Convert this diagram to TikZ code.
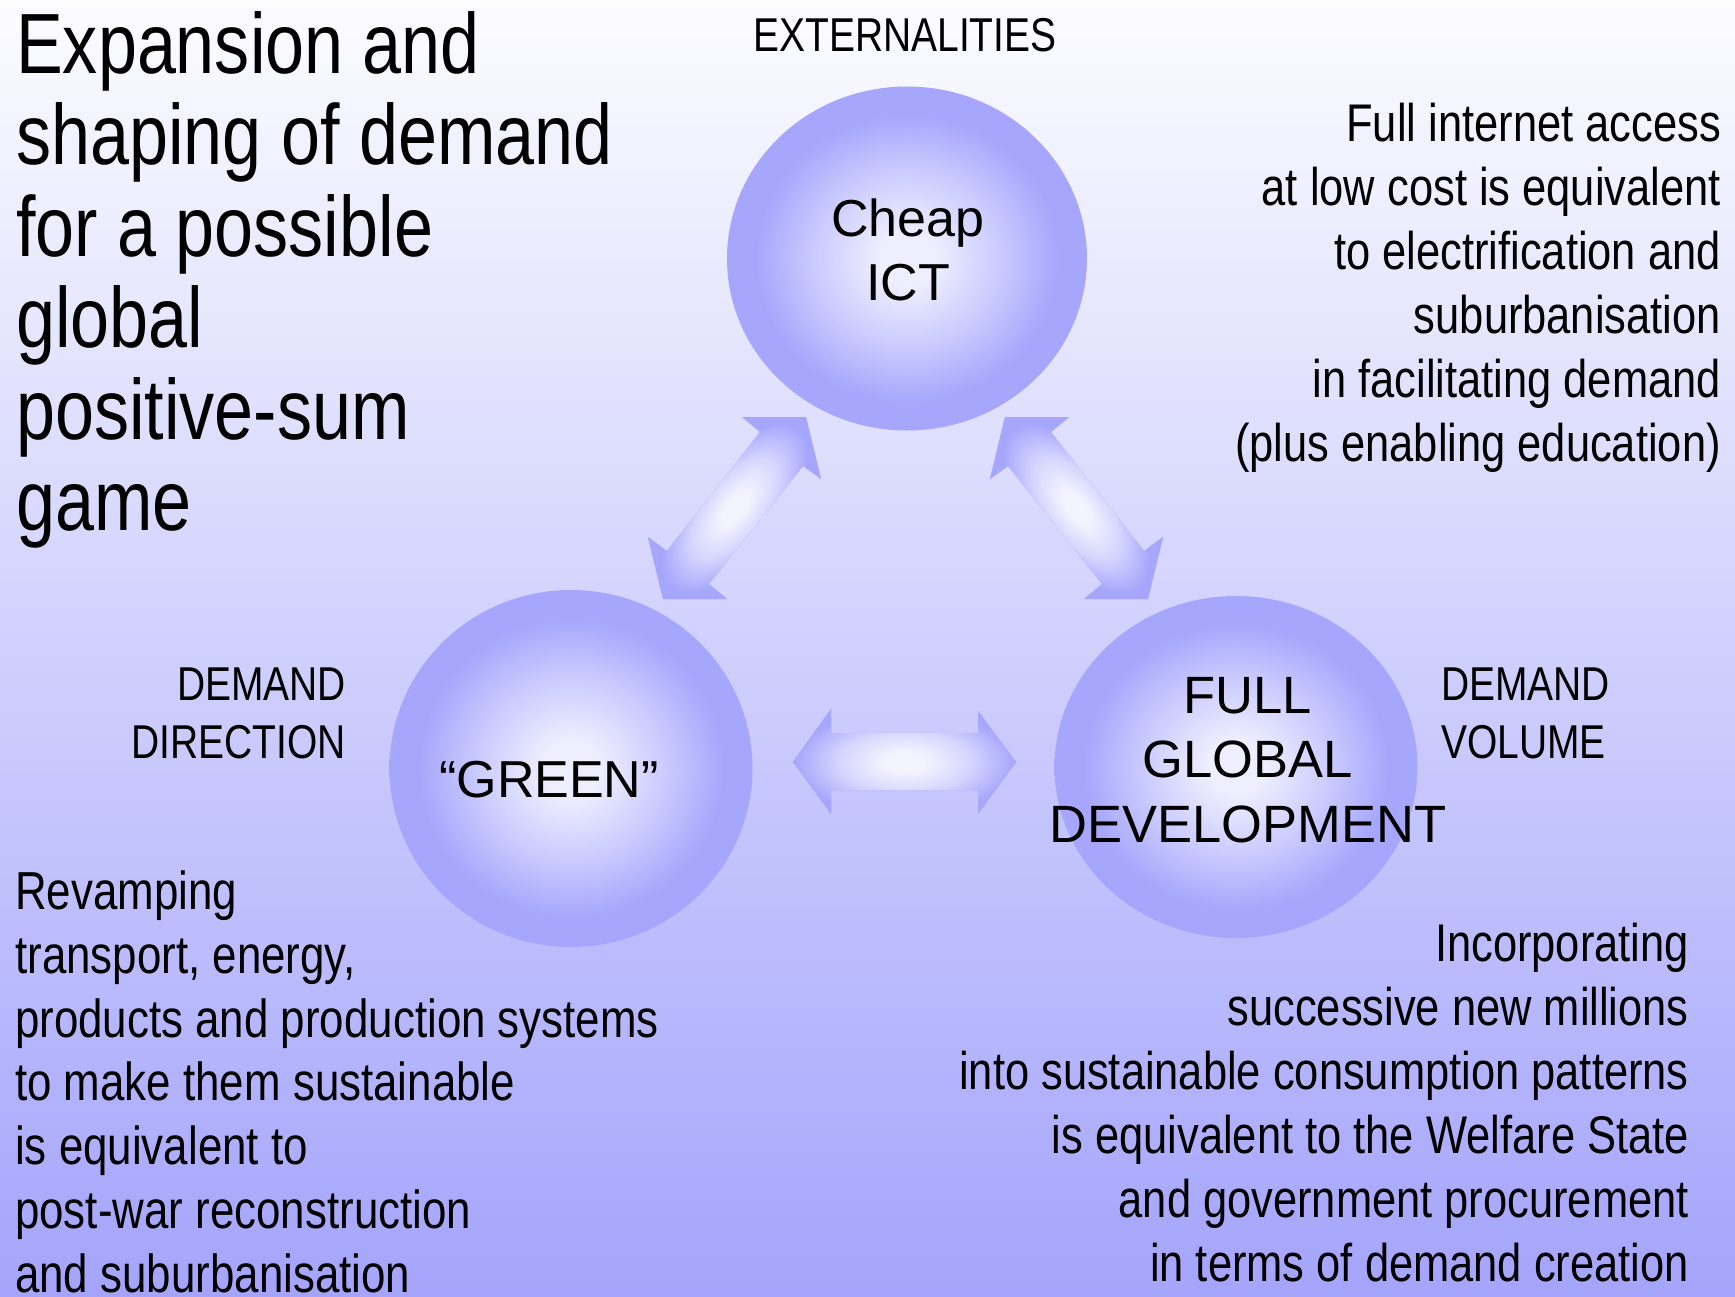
\documentclass[tikz,border=0pt]{standalone}
\usepackage{fontspec}
\setmainfont{Liberation Sans}
\newfontfamily\narrowfont[FakeStretch=0.82]{Liberation Sans}
\usetikzlibrary{shapes.geometric}
\definecolor{bgTop}{RGB}{252,252,255}
\definecolor{bgBot}{RGB}{164,164,252}
\definecolor{sphC}{RGB}{238,238,255}
\definecolor{sphM}{RGB}{202,202,255}
\definecolor{sphE}{RGB}{166,166,252}
\definecolor{glowC}{RGB}{244,244,255}
\definecolor{glowM}{RGB}{214,214,255}
\pgfdeclareradialshading{sphere}{\pgfpoint{0bp}{0bp}}{color(0bp)=(sphC); color(4bp)=(sphC); color(13bp)=(sphM); color(21bp)=(sphE); color(25bp)=(sphE); color(50bp)=(sphE)}
\pgfdeclareradialshading{glow}{\pgfpoint{0bp}{0bp}}{color(0bp)=(glowC); color(4bp)=(glowC); color(13bp)=(glowM); color(22bp)=(sphE); color(25bp)=(sphE); color(50bp)=(sphE)}
\tikzset{
  ball/.style={ellipse, inner sep=0pt, shading=sphere},
  balllabel/.style={anchor=base, align=center, inner sep=0pt, font=\fontsize{52}{64}\selectfont},
  bigtitle/.style={anchor=base west, align=left, inner sep=0pt, font=\narrowfont\fontsize{85.5}{91.5}\selectfont},
  caps/.style={inner sep=0pt, font=\narrowfont\fontsize{47.5}{58}\selectfont},
  body/.style={inner sep=0pt, font=\narrowfont\fontsize{53}{64}\selectfont},
}
% fat arrow: #1 outline path, #2 centre, #3 axis angle, #4 half length, #5 half width of glow
\newcommand\fatarrowdraw[5]{%
  \fill[sphE] #1;
  \begin{scope}
    \clip #1;
    \begin{scope}[transform canvas={shift={#2}, rotate=#3}]
      \shade[shading=glow] (-#4,-#5) rectangle (#4,#5);
    \end{scope}
  \end{scope}}
\begin{document}
\begin{tikzpicture}[x=1pt, y=-1pt]
\useasboundingbox (0,0) rectangle (1735,1296);
\shade[top color=bgTop, bottom color=bgBot] (0,0) rectangle (1735,1296);

% spheres
\node[ball, minimum width=360, minimum height=344] (ict) at (907,258.5) {};
\node[ball, minimum width=363, minimum height=357] (green) at (571,768.5) {};
\node[ball, minimum width=363, minimum height=342] (full) at (1236,767) {};

% fat double arrows
\fatarrowdraw{(742,417) -- (806,417) -- (821,479) -- (803,466) -- (709,584) -- (727,599)
  -- (663,599) -- (648,537) -- (667,551) -- (760,432) -- cycle}{(734.75,508.25)}{52}{115}{55}
\fatarrowdraw{(1069,417) -- (1005,417) -- (990,479) -- (1008,466) -- (1102,584) -- (1084,599)
  -- (1148,599) -- (1163,537) -- (1144,551) -- (1051,432) -- cycle}{(1076.25,508.25)}{128}{115}{55}
\fatarrowdraw{(793,762) -- (831,709) -- (831,733) -- (978,733) -- (978,711) -- (1016,762)
  -- (978,814) -- (978,790) -- (831,790) -- (831,814) -- cycle}{(904.5,762)}{0}{125}{60}

% sphere labels (base = last line)
\node[balllabel] (ictlabel) at (908,300) {Cheap\\ICT};
\node[balllabel] (greenlabel) at (549,797) {“GREEN”};
\node[balllabel, font=\fontsize{52.5}{64.5}\selectfont] (fulllabel) at (1248,842) {FULL\\GLOBAL\\DEVELOPMENT};

% captions
\node[caps, anchor=base] (ext) at (905,51) {EXTERNALITIES};
\node[caps, anchor=base east, align=right] (ddir) at (346,758) {DEMAND\\DIRECTION};
\node[caps, anchor=base west, align=left] (dvol) at (1441,758) {DEMAND\\VOLUME};

% title and texts (base = last line)
\node[bigtitle] (title) at (16,530.5) {Expansion and\\shaping of demand\\for a possible\\global\\positive-sum\\game};
\node[body, anchor=base east, align=right] (ictnote) at (1721,461) {Full internet access\\at low cost is equivalent\\to electrification and\\suburbanisation\\in facilitating demand\\(plus enabling education)};
\node[body, font=\narrowfont\fontsize{53.5}{63.7}\selectfont, anchor=base west, align=left] (greennote) at (15,1292) {Revamping\\transport, energy,\\products and production systems\\to make them sustainable\\is equivalent to\\post-war reconstruction\\and suburbanisation};
\node[body, anchor=base east, align=right] (fullnote) at (1689,1281) {Incorporating\\successive new millions\\into sustainable consumption patterns\\is equivalent to the Welfare State\\and government procurement\\in terms of demand creation};
\end{tikzpicture}
\end{document}
